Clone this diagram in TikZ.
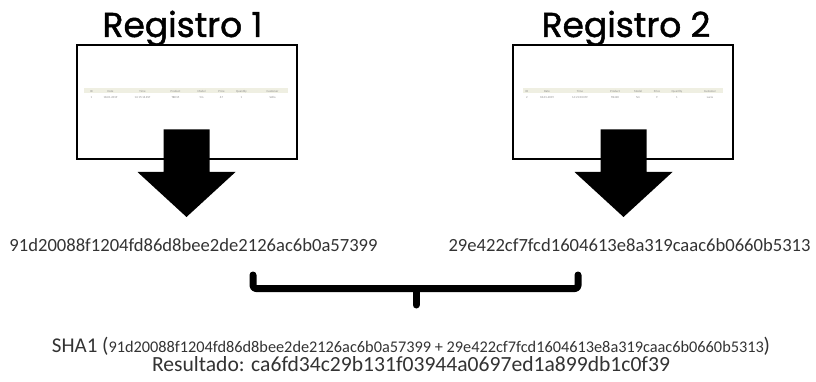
\documentclass[tikz,border=0pt]{standalone}
\usepackage{fontspec}
\setmainfont{Carlito}
\newfontfamily\titlefont[FakeBold=1.3]{Poppins}
\definecolor{hashgray}{HTML}{333333}
\definecolor{tblhead}{HTML}{EFEFE2}
\definecolor{tbltext}{HTML}{8A8A8A}
\tikzset{
  regtitle/.style={font=\titlefont\fontsize{34.5}{38}\selectfont, anchor=base, inner sep=0pt},
  regbox/.style={draw=black, line width=2pt, fill=white, inner sep=0pt,
                 minimum width=220pt, minimum height=114pt},
  hashtext/.style={font=\fontsize{18.6}{20}\selectfont, text=hashgray, anchor=base, inner sep=0pt},
  tblcell/.style={font=\fontsize{3}{3.5}\selectfont, text=tbltext, inner sep=0pt, anchor=base},
  bracket/.style={line width=7pt, line cap=round, line join=round, rounded corners=3pt},
  % filled block arrow, origin at its tip
  blockarrow/.pic={
    \fill[black] (-23,-87.5) -- (23,-87.5) -- (23,-45) -- (49,-45)
      -- (0,0) -- (-49,-45) -- (-23,-45) -- cycle;
  },
}
\begin{document}
\begin{tikzpicture}[x=1pt, y=-1pt]
  \useasboundingbox (0,0) rectangle (816,382);

  % titles
  \node[regtitle] (title1) at (182.5,37) {Registro 1};
  \node[regtitle] (title2) at (626,37) {Registro 2};

  % record boxes
  \node[regbox] (box1) at (186.5,102) {};
  \node[regbox] (box2) at (623,102) {};

  % tiny record tables inside the boxes
  \begin{scope}[shift={(box1.center)}]
    \fill[tblhead] (-103,-14) rectangle (101,-8.5);
    \foreach \cx/\h/\v in {-95/ID/1,-76/Date/18-01-2019,-44/Time/14:15:16 EST,
        -11/Product/TBD15,15/Model/5m,35/Price/67,55/Quantity/1,86/Customer/Sofia}{
      \node[tblcell] at (\cx,-9.5) {\h};
      \node[tblcell] at (\cx,-3.5) {\v};
    }
  \end{scope}
  \begin{scope}[shift={(box2.center)}]
    \fill[tblhead] (-100,-14) rectangle (100,-8.5);
    \foreach \cx/\h/\v in {-96/ID/2,-76/Date/18-01-2019,-43/Time/14:21:03 EST,
        -8/Product/TB420,15/Model/5m,34/Price/9,54/Quantity/1,87/Customer/Lucia}{
      \node[tblcell] at (\cx,-9.5) {\h};
      \node[tblcell] at (\cx,-3.5) {\v};
    }
  \end{scope}

  % arrows from each record to its hash
  \coordinate (tip1) at (186.5,217);
  \coordinate (tip2) at (623.5,217);
  \pic at (tip1) {blockarrow};
  \pic at (tip2) {blockarrow};

  % hashes of each record
  \node[hashtext] (hash1) at (193.5,251) {91d20088f1204fd86d8bee2de2126ac6b0a57399};
  \node[hashtext] (hash2) at (629.5,251) {29e422cf7fcd1604613e8a319caac6b0660b5313};

  % bracket joining both hashes
  \coordinate (brL) at (253,275);
  \coordinate (brR) at (578,275);
  \coordinate (brM) at (416,288.5);
  \coordinate (brS) at (416,305);
  \draw[bracket] (brL) |- (brR |- brM) -- (brR);
  \draw[line width=7pt, line cap=round] (brM) -- (brS);

  % combined hash
  \node[anchor=base, inner sep=0pt, text=hashgray] (sha) at (411,352)
    {\fontsize{21}{23}\selectfont SHA1 (\fontsize{16.3}{18}\selectfont
     91d20088f1204fd86d8bee2de2126ac6b0a57399 + 29e422cf7fcd1604613e8a319caac6b0660b5313\fontsize{21}{23}\selectfont)};
  \node[anchor=base, inner sep=0pt, text=hashgray, font=\fontsize{21.6}{23}\selectfont]
    (result) at (411,371) {Resultado: ca6fd34c29b131f03944a0697ed1a899db1c0f39};
\end{tikzpicture}
\end{document}
